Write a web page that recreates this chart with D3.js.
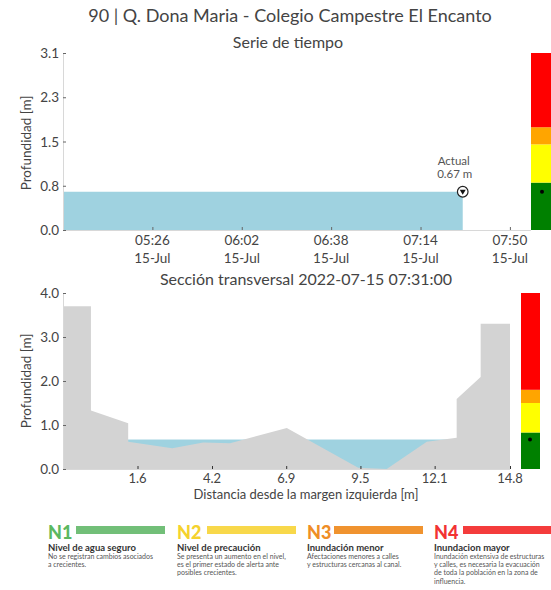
<!DOCTYPE html>
<html>
<head>
<meta charset="utf-8">
<script src="https://cdn.jsdelivr.net/npm/d3@7"></script>
<style>
  html, body { margin: 0; padding: 0; background: #fff; }
  svg { display: block; font-family: Lato, "Open Sans", sans-serif; }
</style>
</head>
<body>
<svg id="chart" width="551" height="590"></svg>
<script>
// ---------------- DATA ----------------
const mainTitle = "90 | Q. Dona Maria - Colegio Campestre El Encanto";
const tsTitle = "Serie de tiempo";
const xsTitle = "Sección transversal 2022-07-15 07:31:00";
const yLabel = "Profundidad [m]";
const xsXLabel = "Distancia desde la margen izquierda [m]";

// time series (HH:MM on 2022-07-15) and depth [m]
const tsTimes = ["04:50", "05:10", "05:30", "05:50", "06:10", "06:30", "06:50", "07:10", "07:31"];
const tsDepth = [0.67, 0.67, 0.67, 0.67, 0.67, 0.67, 0.67, 0.67, 0.67];
const tsDomain = ["04:50", "07:58:30"];
const tsTicks = ["05:26", "06:02", "06:38", "07:14", "07:50"];
const tsYTicks = [0, 0.775, 1.55, 2.325, 3.1];
const tsYTickLabels = ["0.0", "0.8", "1.5", "2.3", "3.1"];
const tsYMax = 3.1;
const currentTime = "07:31";
const currentDepth = 0.67;

// cross-section: distance [m] and bed elevation [m]
const xsDist  = [-1.04, -0.05, -0.05, 1.27, 1.27, 2.83, 3.93, 4.88, 6.89, 9.42, 10.43, 11.85, 12.91, 12.91, 13.76, 13.76, 14.80, 14.80];
const xsBed   = [3.70,  3.70,  1.33,  1.04, 0.62, 0.47, 0.60, 0.585, 0.93, 0.03, 0.0,  0.62,  0.71,  1.59,  2.09,  3.30,  3.30,  0.0];
const xsDomain = [-1.04, 14.8];
const xsTicks = [1.6, 4.24, 6.87, 9.5, 12.13, 14.8];
const xsYTicks = [0, 1, 2, 3, 4];
const xsYMax = 4.0;

// alert level thresholds [m] and colours
const levelBounds = [0, 0.83, 1.5, 1.8];
const levelColors = ["#008000", "#ffff00", "#ffa500", "#ff0000"];

// legend
const legendCodes = ["N1", "N2", "N3", "N4"];
const legendColors = ["#72bf78", "#f8d84a", "#f0932f", "#f43c3c"];
const legendTextColors = ["#5cb860", "#f5d22e", "#ef8e26", "#f23333"];
const legendHeads = ["Nivel de agua seguro", "Nivel de precaución", "Inundación menor", "Inundacion mayor"];
const legendDesc = [
  ["No se registran cambios asociados", "a crecientes."],
  ["Se presenta un aumento en el nivel,", "es el primer estado de alerta ante", "posibles crecientes."],
  ["Afectaciones menores a calles", "y estructuras cercanas al canal."],
  ["Inundación extensiva de estructuras", "y calles, es necesaria la evacuación", "de toda la población en la zona de", "influencia."]
];

// ---------------- DRAW ----------------
const svg = d3.select("#chart");
const parseT = s => {
  const p = s.split(":").map(Number);
  return new Date(Date.UTC(2022, 6, 15, p[0], p[1], p[2] || 0));
};
const textCol = "#444";
const spineCol = "#d8d8d8";
const tickCol = "#666";
const waterCol = "#9fd2e0";
const bedCol = "#d3d3d3";

// Titles
svg.append("text").attr("x", 290).attr("y", 22).attr("text-anchor", "middle")
  .attr("font-size", 18).attr("fill", textCol).text(mainTitle);
svg.append("text").attr("x", 288).attr("y", 48).attr("text-anchor", "middle")
  .attr("font-size", 16).attr("fill", textCol).text(tsTitle);
svg.append("text").attr("x", 306).attr("y", 285).attr("text-anchor", "middle")
  .attr("font-size", 16).attr("fill", textCol).text(xsTitle);

// ---------- Time series ----------
const tsX = d3.scaleUtc().domain(tsDomain.map(parseT)).range([63, 531]);
const tsY = d3.scaleLinear().domain([0, tsYMax]).range([230, 53]);
const tsData = tsTimes.map((t, i) => ({ t: parseT(t), v: tsDepth[i] }));

svg.append("path").datum(tsData)
  .attr("fill", waterCol)
  .attr("d", d3.area().x(d => tsX(d.t)).y0(tsY(0)).y1(d => tsY(d.v)));

// spines
svg.append("line").attr("x1", 63).attr("x2", 531).attr("y1", 230.5).attr("y2", 230.5).attr("stroke", spineCol);
svg.append("line").attr("x1", 63.5).attr("x2", 63.5).attr("y1", 53).attr("y2", 230).attr("stroke", spineCol);

// y axis
const tsYAxis = svg.append("g").attr("transform", "translate(63,0)")
  .call(d3.axisRight(tsY).tickValues(tsYTicks).tickSize(3).tickFormat((d, i) => tsYTickLabels[i]));
tsYAxis.select(".domain").remove();
tsYAxis.selectAll(".tick line").attr("stroke", tickCol);
tsYAxis.selectAll(".tick text").attr("x", -4).attr("text-anchor", "end").attr("dy", "0.35em")
  .attr("font-size", 13.5).attr("fill", textCol).attr("font-family", "Lato, sans-serif");

// x axis
const tsXAxis = svg.append("g").attr("transform", "translate(0,230)")
  .call(d3.axisTop(tsX).tickValues(tsTicks.map(parseT)).tickSize(3).tickFormat(""));
tsXAxis.select(".domain").remove();
tsXAxis.selectAll(".tick line").attr("stroke", tickCol);
const fmtHM = d3.utcFormat("%H:%M"), fmtDay = d3.utcFormat("%d-%b");
tsTicks.map(parseT).forEach(t => {
  svg.append("text").attr("x", tsX(t)).attr("y", 245).attr("text-anchor", "middle")
    .attr("font-size", 13.5).attr("fill", textCol).text(fmtHM(t));
  svg.append("text").attr("x", tsX(t)).attr("y", 263).attr("text-anchor", "middle")
    .attr("font-size", 13.5).attr("fill", textCol).text(fmtDay(t));
});

// y label
svg.append("text").attr("transform", "translate(31,143) rotate(-90)").attr("text-anchor", "middle")
  .attr("font-size", 13.5).attr("fill", textCol).text(yLabel);

// current marker
const cx = tsX(parseT(currentTime)), cy = tsY(currentDepth);
svg.append("circle").attr("cx", cx).attr("cy", cy).attr("r", 5.3)
  .attr("fill", "#fff").attr("stroke", "#222").attr("stroke-width", 1.2);
svg.append("path").attr("transform", `translate(${cx},${cy})`)
  .attr("d", "M-3,-2 L3,-2 L0,3 Z").attr("fill", "#111");
svg.append("text").attr("x", cx - 9).attr("y", 165).attr("text-anchor", "middle")
  .attr("font-size", 11.5).attr("fill", "#555").text("Actual");
svg.append("text").attr("x", cx - 8).attr("y", 178).attr("text-anchor", "middle")
  .attr("font-size", 11.5).attr("fill", "#555").text(d3.format(".2f")(currentDepth) + " m");

// level bar
function levelBar(yScale, yMax, x0, w, dotX, depth) {
  const tops = levelBounds.slice(1).concat([yMax]);
  levelBounds.forEach((b, i) => {
    svg.append("rect").attr("x", x0).attr("width", w)
      .attr("y", yScale(tops[i])).attr("height", yScale(b) - yScale(tops[i]))
      .attr("fill", levelColors[i]);
  });
  svg.append("circle").attr("cx", dotX).attr("cy", yScale(depth)).attr("r", 2).attr("fill", "#000");
}
levelBar(tsY, tsYMax, 531, 20, 542, currentDepth);

// ---------- Cross-section ----------
const xsX = d3.scaleLinear().domain(xsDomain).range([63, 510]);
const xsY = d3.scaleLinear().domain([0, xsYMax]).range([469, 293]);

svg.append("rect").attr("x", xsX(xsDomain[0])).attr("width", xsX(xsDomain[1]) - xsX(xsDomain[0]))
  .attr("y", xsY(currentDepth)).attr("height", xsY(0) - xsY(currentDepth)).attr("fill", waterCol);

const bed = xsDist.map((d, i) => ({ d, z: xsBed[i] }));
svg.append("path").datum(bed).attr("fill", bedCol)
  .attr("d", d3.area().x(p => xsX(p.d)).y0(xsY(0)).y1(p => xsY(p.z)));

svg.append("line").attr("x1", 63).attr("x2", 510).attr("y1", 469.5).attr("y2", 469.5).attr("stroke", spineCol);
svg.append("line").attr("x1", 63.5).attr("x2", 63.5).attr("y1", 293).attr("y2", 469).attr("stroke", spineCol);

const xsYAxis = svg.append("g").attr("transform", "translate(63,0)")
  .call(d3.axisRight(xsY).tickValues(xsYTicks).tickSize(3).tickFormat(d3.format(".1f")));
xsYAxis.select(".domain").remove();
xsYAxis.selectAll(".tick line").attr("stroke", tickCol);
xsYAxis.selectAll(".tick text").attr("x", -4).attr("text-anchor", "end").attr("dy", "0.35em")
  .attr("font-size", 13.5).attr("fill", textCol).attr("font-family", "Lato, sans-serif");

const xsXAxis = svg.append("g").attr("transform", "translate(0,469)")
  .call(d3.axisTop(xsX).tickValues(xsTicks).tickSize(3).tickFormat(""));
xsXAxis.select(".domain").remove();
xsXAxis.selectAll(".tick line").attr("stroke", "#333");
xsTicks.forEach(v => {
  svg.append("text").attr("x", xsX(v)).attr("y", 483).attr("text-anchor", "middle")
    .attr("font-size", 13).attr("fill", textCol).text(d3.format(".1f")(v));
});
svg.append("text").attr("x", 306).attr("y", 499).attr("text-anchor", "middle")
  .attr("font-size", 13).attr("fill", textCol).text(xsXLabel);
svg.append("text").attr("transform", "translate(31,381) rotate(-90)").attr("text-anchor", "middle")
  .attr("font-size", 13.5).attr("fill", textCol).text(yLabel);

levelBar(xsY, xsYMax, 521, 19, 530, currentDepth);

// ---------- Legend ----------
const legX = [48, 177, 307, 434];
const barX0 = [76, 207, 334, 463];
const barW = 89;
legendCodes.forEach((c, i) => {
  const g = svg.append("g");
  g.append("text").attr("x", legX[i]).attr("y", 538.5).attr("font-size", 18).attr("font-weight", 900)
    .attr("fill", legendTextColors[i]).text(c);
  g.append("rect").attr("x", barX0[i]).attr("y", 526).attr("width", barW).attr("height", 8)
    .attr("fill", legendColors[i]);
  g.append("text").attr("x", legX[i]).attr("y", 550.5).attr("font-size", 9.5).attr("font-weight", 700)
    .attr("fill", "#333").text(legendHeads[i]);
  legendDesc[i].forEach((line, j) => {
    g.append("text").attr("x", legX[i]).attr("y", 559 + j * 8.2).attr("font-size", 7)
      .attr("fill", "#555").text(line);
  });
});
</script>
</body>
</html>
